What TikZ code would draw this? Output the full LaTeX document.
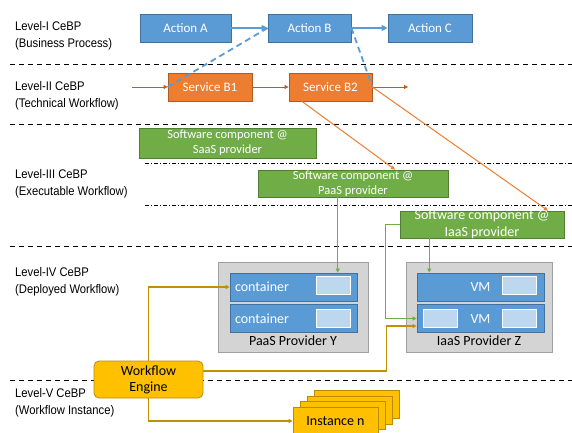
\documentclass[tikz,border=0pt]{standalone}
\usepackage{fontspec}
\setmainfont{Carlito}
\newfontfamily\levelfont{Liberation Sans}
\usetikzlibrary{arrows.meta,calc}
\definecolor{actblue}{HTML}{5B9BD5}
\definecolor{actline}{HTML}{41719C}
\definecolor{svcorange}{HTML}{ED7D31}
\definecolor{svcline}{HTML}{AE5A21}
\definecolor{flowbrown}{HTML}{C55A11}
\definecolor{compgreen}{HTML}{70AD47}
\definecolor{compline}{HTML}{507E32}
\definecolor{enggold}{HTML}{FFC000}
\definecolor{engline}{HTML}{BC8C00}
\definecolor{wiregold}{HTML}{BF9000}
\definecolor{hostgray}{HTML}{D4D4D4}
\definecolor{hostline}{HTML}{A0A0A0}
\definecolor{slotblue}{HTML}{BDD7EE}
\begin{document}
\begin{tikzpicture}[line cap=butt,line join=miter,>={Triangle[length=4pt,width=4pt]},x=1pt,y=-1pt]
	\tikzset{
		levelname/.style={anchor=west,align=left,inner sep=0,xscale=0.9,transform shape,font=\levelfont\fontsize{12.5}{17}\selectfont},
		act/.style={draw=actline,fill=actblue,text=white,line width=0.8pt,minimum height=28,inner sep=0,font=\fontsize{13}{15}\selectfont},
		svc/.style={act,draw=svcline,fill=svcorange},
		comp/.style={draw=compline,fill=compgreen,text=white,line width=0.8pt,align=center,inner sep=0,font=\fontsize{12.5}{15}\selectfont},
		hostbox/.style={draw=hostline,fill=hostgray,line width=0.8pt,minimum height=90,inner sep=0},
		unitbox/.style={draw=actline,fill=actblue,text=white,line width=0.8pt,text width=117,minimum height=28,inner xsep=5,inner ysep=0,font=\fontsize{14}{16}\selectfont},
		slotbox/.style={draw=white,fill=slotblue,line width=0.8pt,minimum width=34,minimum height=18,inner sep=0},
		instbox/.style={draw=engline,fill=enggold,line width=0.8pt,minimum width=85,minimum height=28,inner sep=0,font=\fontsize{14}{16}\selectfont},
		layerline/.style={dash pattern=on 5pt off 4pt,line width=1pt},
		sublayer/.style={dash pattern=on 4pt off 2pt on 1pt off 2pt,line width=0.6pt},
		actarrow/.style={-{Triangle[length=6pt,width=6pt]},draw=actblue,line width=1.8pt},
		mapline/.style={draw=actblue,line width=1.8pt,dash pattern=on 6pt off 4pt},
		flowarrow/.style={->,draw=flowbrown,line width=0.9pt},
		deployarrow/.style={->,draw=svcorange,line width=1pt},
		bindarrow/.style={->,draw=compgreen,line width=1pt},
		enginearrow/.style={->,draw=wiregold,line width=1.2pt}
	}
	\clip (0,0) rectangle (572,432);
	% layer borders
	\foreach \y in {64,124,246,380} \draw[layerline] (10,\y)--(572,\y);
	\foreach \y in {163,205} \draw[sublayer] (145,\y)--(572,\y);
	\node[levelname] (lv1) at (15,35.5) {Level-I CeBP\\(Business Process)};
	\node[levelname] (lv2) at (15,96) {Level-II CeBP\\(Technical Workflow)};
	\node[levelname] (lv3) at (15,183.5) {Level-III CeBP\\(Executable Workflow)};
	\node[levelname] (lv4) at (15,281.5) {Level-IV CeBP\\(Deployed Workflow)};
	\node[levelname] (lv5) at (15,403) {Level-V CeBP\\(Workflow Instance)};
	% business process and technical workflow
	\node[act,minimum width=91] (actA) at (185.5,28) {Action A};
	\node[act,minimum width=83] (actB) at (309.5,28) {Action B};
	\node[act,minimum width=84] (actC) at (430,28) {Action C};
	\node[svc,minimum width=84] (svcB1) at (210,87) {Service B1};
	\node[svc,minimum width=83] (svcB2) at (330.5,87) {Service B2};
	\coordinate (wfin) at (132,87);
	\coordinate (wfout) at (408,87);
	% software components
	\node[comp,minimum width=177,minimum height=30] (saas) at (227.5,143) {Software component @\\SaaS provider};
	\node[comp,minimum width=190,minimum height=27] (paas) at (353,183.5) {Software component @\\PaaS provider};
	\node[comp,minimum width=164,minimum height=27,inner ysep=-2pt,font=\fontsize{14}{17}\selectfont] (iaas) at (482,224.5) {Software component @\\IaaS provider};
	% providers
	\node[hostbox,minimum width=150] (paasY) at (293,307) {};
	\node[hostbox,minimum width=146] (iaasZ) at (479,307) {};
	\node[font=\fontsize{14}{16}\selectfont,inner sep=0] (paasYname) at (293,340.5) {PaaS Provider Y};
	\node[font=\fontsize{14}{16}\selectfont,inner sep=0] (iaasZname) at (479,340.5) {IaaS Provider Z};
	\node[unitbox,align=left] (cont1) at (293.5,287) {container};
	\node[unitbox,align=left] (cont2) at (293.5,318.5) {container};
	\node[unitbox,align=center] (vm1) at (480.5,287) {VM};
	\node[unitbox,align=center] (vm2) at (480.5,318.5) {VM};
	\node[slotbox] (slotc1) at (333,285.5) {};
	\node[slotbox] (slotc2) at (333,318) {};
	\node[slotbox] (slotv1) at (519.5,285.5) {};
	\node[slotbox] (slotv2) at (440,318) {};
	\node[slotbox] (slotv3) at (519.5,318) {};
	% engine and instances
	\node[draw=engline,fill=enggold,line width=0.8pt,rounded corners=5pt,minimum width=109,minimum height=37,inner sep=0,align=center,font=\fontsize{14}{16}\selectfont] (engine) at (148.5,379.5) {Workflow\\Engine};
	\foreach \k in {3,2,1} \node[instbox] (inst\k) at ({335.5+7*\k},{421-5.5*\k}) {};
	\node[instbox] (inst) at (335.5,421) {Instance n};
	% connectors
	\draw[actarrow] (actA)--(actB);
	\draw[actarrow] (actB)--(actC);
	\draw[mapline] (svcB1.west)--(actB.west);
	\draw[mapline] (actB.east)--(svcB2.east);
	\draw[flowarrow] (wfin)--(svcB1);
	\draw[flowarrow] (svcB1)--(svcB2);
	\draw[flowarrow] (svcB2)--(wfout);
	\draw[deployarrow] ($(svcB2.south west)!0.16!(svcB2.south east)$)--($(paas.north west)!0.72!(paas.north east)$);
	\draw[deployarrow] (svcB2.east)--($(iaas.north west)!0.9!(iaas.north east)$);
	\draw[bindarrow] ($(paas.south west)!0.42!(paas.south east)$) coordinate (pb)--(pb |- cont1.north);
	\draw[bindarrow] (iaas.west)--++(-14,0) |- (vm2.west);
	\draw[bindarrow] ($(iaas.south west)!0.18!(iaas.south east)$) coordinate (ib)--(ib |- vm1.north);
	\draw[enginearrow] (engine.north) |- (cont1.west);
	\draw[enginearrow] ([yshift=8.5pt]engine.east) -| ([xshift=-30pt,yshift=-7.5pt]vm2.west)--([yshift=-7.5pt]vm2.west);
	\draw[enginearrow] (engine.south) |- (inst.west);
\end{tikzpicture}
\end{document}
